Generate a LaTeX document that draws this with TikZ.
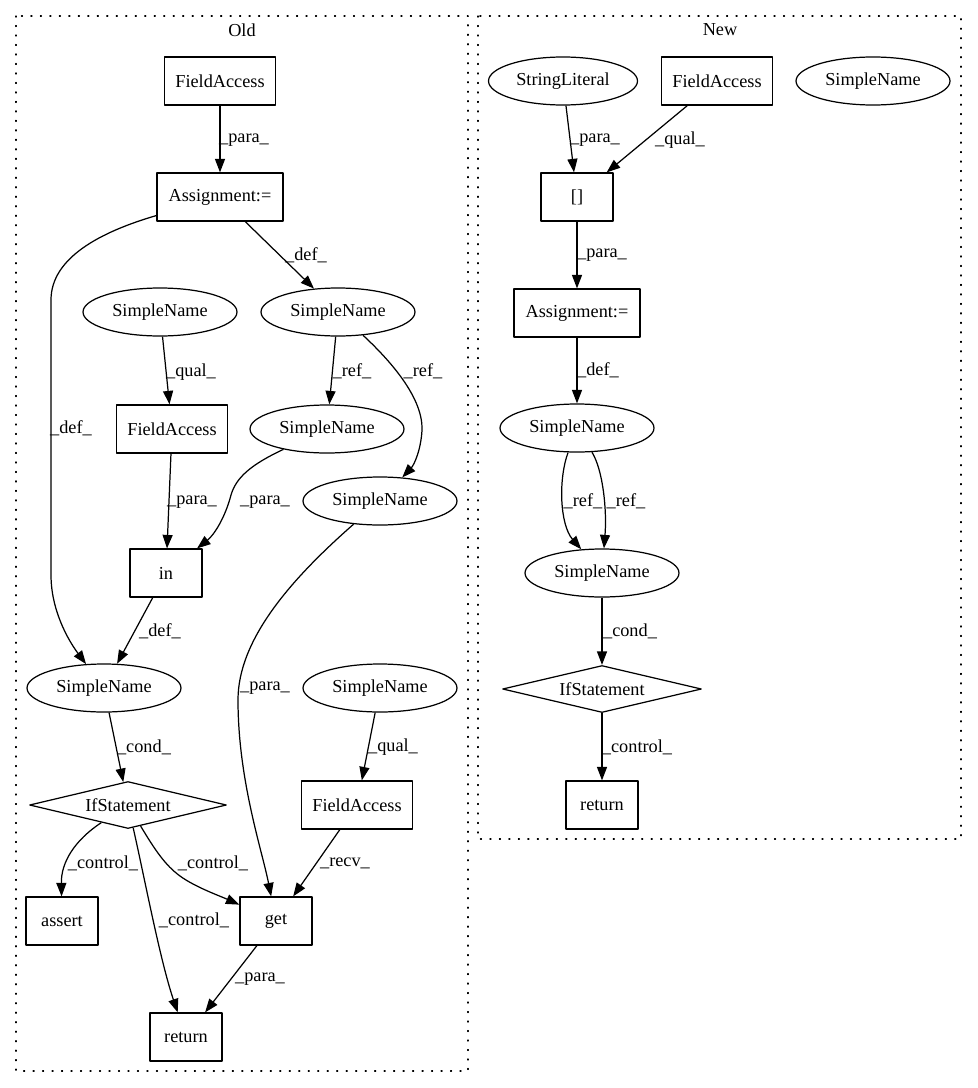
\documentclass[tikz,border=0pt]{standalone}
\usepackage{fontspec}
\setmainfont{Liberation Serif}
\usetikzlibrary{arrows.meta,shapes.geometric}
\tikzset{>={Triangle[length=0.27cm,width=0.2cm]},
every picture/.append style={
    line join=round,
    line width=0.7pt
  },
box/.style={draw, rectangle, minimum width=1.44cm, minimum height=0.96cm, inner sep=0pt},
oval/.style={draw, ellipse, minimum width=3.08cm, minimum height=0.96cm, inner sep=0pt},
cond/.style={draw, diamond, shape aspect=4.2, minimum width=3.94cm, minimum height=0.94cm, inner sep=0pt},
lbl/.style={inner sep=0pt},
cluster/.style={line cap=round, dash pattern=on 0.6pt off 4.8pt}}

\begin{document}
\begin{tikzpicture}[x=0.02cm, y=-0.02cm, font=\fontsize{10.4}{12.5}\selectfont]
        \useasboundingbox (0,0) rectangle (977,1088);
        \draw [cluster] (16,16) rectangle (468,1071);
        \draw [cluster] (478,16) rectangle (961,839);
        \node (oldtitle) at (242,30) {Old};
        \node (newtitle) at (720,30) {New};

        % Old
        \node [box, minimum width=2.22cm] (fa1) at (220,81) {FieldAccess};
        \node [box, minimum width=2.52cm] (asg1) at (220,197) {Assignment:=};
        \node [oval] (sna) at (160,312) {SimpleName};
        \node [oval] (snb) at (338,312) {SimpleName};
        \node [box, minimum width=2.22cm] (fa2) at (172,429) {FieldAccess};
        \node [oval] (snc) at (327,429) {SimpleName};
        \node [oval] (snd) at (380,501) {SimpleName};
        \node [box] (in1) at (166,573) {in};
        \node [oval] (sne) at (104,688) {SimpleName};
        \node [oval] (snf) at (380,688) {SimpleName};
        \node [cond] (if1) at (128,805) {IfStatement};
        \node [box, minimum width=2.22cm] (fa3) at (357,805) {FieldAccess};
        \node [box] (assert1) at (62,921) {assert};
        \node [box] (get1) at (276,921) {get};
        \node [box] (ret1) at (186,1037) {return};

        \draw [->] (fa1) -- (asg1) node [lbl] at (244,140) {\_para\_};
        \draw [->] (asg1) -- (snb) node [lbl] at (306,255) {\_def\_};
        \draw [->] (asg1) .. controls (100,232) and (51,258) .. (51,300) -- (51,575)
            .. controls (51,610) and (68,640) .. (sne) node [lbl] at (71,428) {\_def\_};
        \draw [->] (sna) -- (fa2) node [lbl] at (191,372) {\_qual\_};
        \draw [->] (snb) -- (snc) node [lbl] at (352,371) {\_ref\_};
        \draw [->] (snb) .. controls (395,365) and (423,400) .. (422,430)
            .. controls (421,450) and (414,465) .. (snd) node [lbl] at (423,371) {\_ref\_};
        \draw [->] (fa2) -- (in1) node [lbl] at (192,502) {\_para\_};
        \draw [->] (snc) .. controls (250,465) and (236,478) .. (231,495)
            .. controls (225,518) and (214,535) .. (in1) node [lbl] at (265,502) {\_para\_};
        \draw [->] (in1) -- (sne) node [lbl] at (160,631) {\_def\_};
        \draw [->] (snd) .. controls (290,580) and (238,640) .. (238,700)
            .. controls (238,780) and (262,850) .. (get1) node [lbl] at (265,688) {\_para\_};
        \draw [->] (sne) -- (if1) node [lbl] at (144,747) {\_cond\_};
        \draw [->] (snf) -- (fa3) node [lbl] at (393,747) {\_qual\_};
        \draw [->] (if1) .. controls (75,840) and (61,862) .. (assert1) node [lbl] at (103,863) {\_control\_};
        \draw [->] (if1) .. controls (155,850) and (165,865) .. (180,876)
            .. controls (195,887) and (220,896) .. (get1) node [lbl] at (213,863) {\_control\_};
        \draw [->] (if1) .. controls (145,880) and (160,960) .. (ret1) node [lbl] at (194,920) {\_control\_};
        \draw [->] (fa3) -- (get1) node [lbl] at (345,863) {\_recv\_};
        \draw [->] (get1) -- (ret1) node [lbl] at (260,979) {\_para\_};

        % New
        \node [oval, minimum width=2.98cm] (sl) at (563,81) {StringLiteral};
        \node [box, minimum width=2.22cm] (fa4) at (717,81) {FieldAccess};
        \node [oval] (sng) at (873,81) {SimpleName};
        \node [box] (idx) at (577,197) {[]};
        \node [box, minimum width=2.52cm] (asg2) at (577,313) {Assignment:=};
        \node [oval] (snh) at (577,428) {SimpleName};
        \node [oval] (sni) at (602,573) {SimpleName};
        \node [cond, minimum width=3.98cm] (if2) at (602,689) {IfStatement};
        \node [box] (ret2) at (602,805) {return};

        \draw [->] (sl) -- (idx) node [lbl] at (595,140) {\_para\_};
        \draw [->] (fa4) -- (idx) node [lbl] at (680,140) {\_qual\_};
        \draw [->] (idx) -- (asg2) node [lbl] at (602,255) {\_para\_};
        \draw [->] (asg2) -- (snh) node [lbl] at (598,370) {\_def\_};
        \draw [->] (snh) .. controls (558,480) and (560,525) .. (sni) node [lbl] at (583,501) {\_ref\_};
        \draw [->] (snh) .. controls (603,470) and (607,510) .. (sni) node [lbl] at (626,501) {\_ref\_};
        \draw [->] (sni) -- (if2) node [lbl] at (630,631) {\_cond\_};
        \draw [->] (if2) -- (ret2) node [lbl] at (637,747) {\_control\_};
    \end{tikzpicture}
\end{document}
